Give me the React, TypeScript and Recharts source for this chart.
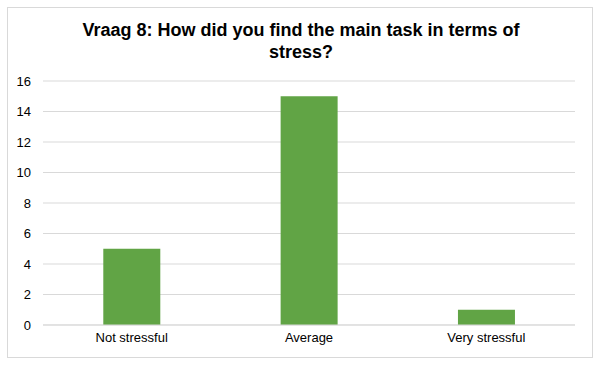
import React from 'react';
import { BarChart, Bar, XAxis, YAxis, CartesianGrid } from 'recharts';

const categories = ['Not stressful', 'Average', 'Very stressful'];
const counts = [5, 15, 1];
const yTicks = [0, 2, 4, 6, 8, 10, 12, 14, 16];

const data = categories.map((name, i) => ({ name, value: counts[i] }));

const font = '"Liberation Sans", Arial, sans-serif';

const App: React.FC = () => (
  <div style={{ position: 'absolute', left: 0, top: 0, width: 600, height: 366, background: '#fff', fontFamily: font }}>
    <div
      style={{
        position: 'absolute',
        left: 7,
        top: 7,
        width: 584,
        height: 349,
        border: '1px solid #d9d9d9',
      }}
    />
    <div
      style={{
        position: 'absolute',
        left: 0,
        top: 19,
        width: 602,
        textAlign: 'center',
        fontWeight: 'bold',
        fontSize: 18,
        lineHeight: '22px',
        color: '#000',
      }}
    >
      Vraag 8: How did you find the main task in terms of
      <br />
      stress?
    </div>
    <div style={{ position: 'absolute', left: 0, top: 0 }}>
      <BarChart
        width={600}
        height={366}
        data={data}
        margin={{ top: 81, right: 25, bottom: 0, left: 10 }}
        barCategoryGap="34%"
      >
        <CartesianGrid vertical={false} stroke="#d9d9d9" />
        <XAxis
          dataKey="name"
          tickLine={false}
          axisLine={{ stroke: '#d9d9d9' }}
          tick={{ fill: '#000', fontSize: 13, fontFamily: font }}
          height={41}
        />
        <YAxis
          domain={[0, 16]}
          ticks={yTicks}
          tickLine={false}
          axisLine={false}
          width={33}
          tickMargin={6}
          tick={{ fill: '#000', fontSize: 13, fontFamily: font }}
        />
        <Bar dataKey="value" fill="#61a445" isAnimationActive={false} />
      </BarChart>
    </div>
  </div>
);

export default App;
